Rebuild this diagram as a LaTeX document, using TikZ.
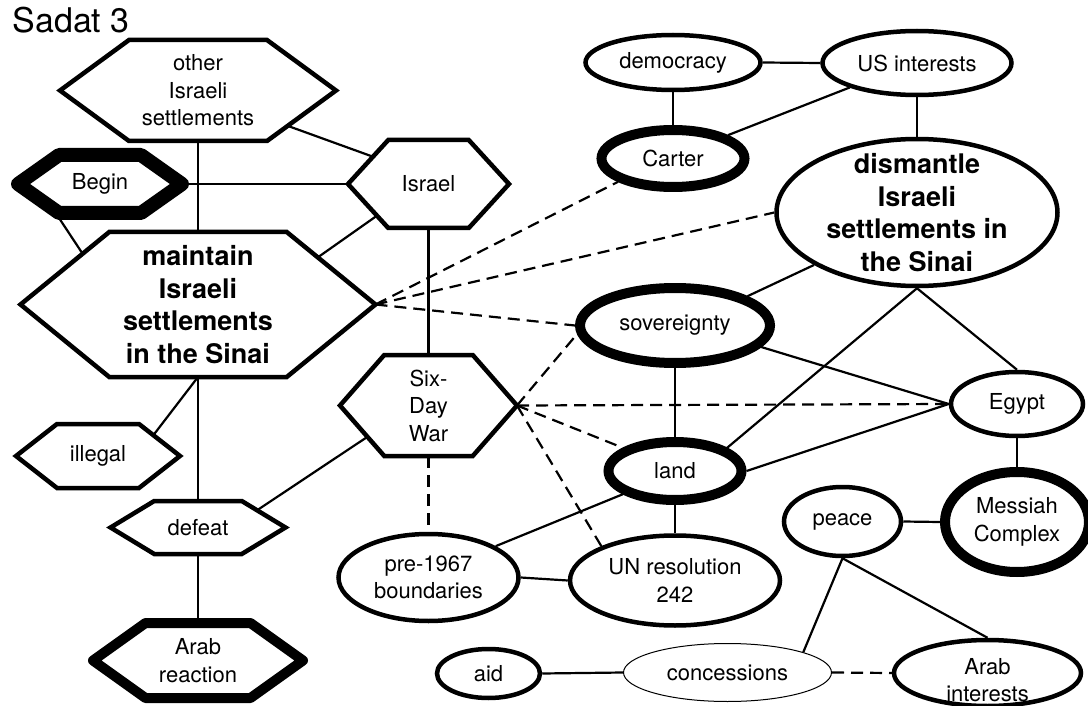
\documentclass[tikz,border=0pt]{standalone}
\usepackage{fontspec}
\setmainfont{TeX Gyre Heros}
\usetikzlibrary{calc,shapes.geometric}

% Elongated hexagon: tips at west/east, flat top and bottom edges
% running between the quarter points of the box.
\makeatletter
\newdimen\hexL \newdimen\hexR \newdimen\hexT \newdimen\hexB
\newdimen\hexM \newdimen\hexQa \newdimen\hexQb
\pgfdeclareshape{hexbox}{%
  \inheritsavedanchors[from=rectangle]%
  \inheritanchorborder[from=rectangle]%
  \inheritanchor[from=rectangle]{center}%
  \inheritanchor[from=rectangle]{north}%
  \inheritanchor[from=rectangle]{south}%
  \inheritanchor[from=rectangle]{west}%
  \inheritanchor[from=rectangle]{east}%
  \anchor{top left}{\southwest \pgf@xa=\pgf@x \northeast
    \pgf@x=.25\pgf@x \advance\pgf@x by .75\pgf@xa}%
  \anchor{top right}{\southwest \pgf@xa=\pgf@x \northeast
    \pgf@x=.75\pgf@x \advance\pgf@x by .25\pgf@xa}%
  \anchor{bottom left}{\northeast \pgf@xa=\pgf@x \southwest
    \pgf@x=.75\pgf@x \advance\pgf@x by .25\pgf@xa}%
  \anchor{bottom right}{\northeast \pgf@xa=\pgf@x \southwest
    \pgf@x=.25\pgf@x \advance\pgf@x by .75\pgf@xa}%
  \backgroundpath{%
    \southwest \hexL=\pgf@x \hexB=\pgf@y
    \northeast \hexR=\pgf@x \hexT=\pgf@y
    \hexM=.5\hexB \advance\hexM by .5\hexT
    \hexQa=.75\hexL \advance\hexQa by .25\hexR
    \hexQb=.25\hexL \advance\hexQb by .75\hexR
    \pgfpathmoveto{\pgfqpoint{\hexL}{\hexM}}%
    \pgfpathlineto{\pgfqpoint{\hexQa}{\hexT}}%
    \pgfpathlineto{\pgfqpoint{\hexQb}{\hexT}}%
    \pgfpathlineto{\pgfqpoint{\hexR}{\hexM}}%
    \pgfpathlineto{\pgfqpoint{\hexQb}{\hexB}}%
    \pgfpathlineto{\pgfqpoint{\hexQa}{\hexB}}%
    \pgfpathclose
  }%
}
\makeatother

\newcommand\lblfont{\fontsize{22}{27.5}\selectfont}
\newcommand\keyfont{\fontsize{27}{32.5}\selectfont\bfseries}

\begin{document}
\begin{tikzpicture}[x=1pt, y=-1pt,
  hexnode/.style={shape=hexbox, draw, fill=white, line width=4.5pt,
    inner sep=0pt, outer sep=0pt, align=center, font=\lblfont},
  ovalnode/.style={ellipse, draw, fill=white, line width=4.5pt,
    inner xsep=0pt, inner ysep=-12pt, align=center, font=\lblfont},
  dims/.style 2 args={minimum width=#1pt, minimum height=#2pt},
  heavy/.style={line width=10pt},
  link/.style={line width=2.2pt},
  dlink/.style={line width=2.2pt, dash pattern=on 12pt off 7pt}]

\useasboundingbox (0,0) rectangle (1088,706);

\node[anchor=base west, font=\fontsize{34}{40}\selectfont] (title) at (9,33) {Sadat 3};

% Israeli side (hexagons)
\node[hexnode, dims={276}{101}] (other) at (198,90.5) {other\\Israeli\\settlements};
\node[hexnode, dims={164}{58}, line width=14pt, line join=round] (begin) at (100,184) {Begin};
\node[hexnode, dims={161}{88}] (israel) at (428.5,184) {Israel};
\node[hexnode, dims={355}{145}, font=\keyfont] (maintain) at (198,304.5)
  {maintain\\Israeli\\settlements\\in the Sinai};
\node[hexnode, dims={164}{64}] (illegal) at (98,456) {illegal};
\node[hexnode, dims={175}{53}] (defeat) at (198,527.5) {defeat};
\node[hexnode, dims={177}{101}] (sixday) at (428.5,405.5) {Six-\\Day\\War};
\node[hexnode, dims={210}{75}, heavy, line join=round] (arabreaction) at (198,660.5) {Arab\\reaction};

% Egyptian side (ellipses)
\node[ovalnode, dims={175}{55}] (democracy) at (673,62.5) {democracy};
\node[ovalnode, dims={189}{64}] (usint) at (917,63) {US interests};
\node[ovalnode, dims={143}{57}, heavy] (carter) at (673,158.5) {Carter};
\node[ovalnode, dims={281}{147}, font=\keyfont] (dismantle) at (917,212.5)
  {dismantle\\Israeli\\settlements in\\the Sinai};
\node[ovalnode, dims={190}{75}, heavy] (sovereignty) at (675,325.5) {sovereignty};
\node[ovalnode, dims={133}{58}, heavy] (land) at (675,471) {land};
\node[ovalnode, dims={132}{64}] (egypt) at (1017,404) {Egypt};
\node[ovalnode, dims={144}{100}, heavy] (messiah) at (1017,522) {Messiah\\Complex};
\node[ovalnode, dims={117}{69}] (peace) at (842.5,521.5) {peace};
% the strut on the first line lowers this label inside its ellipse
\node[ovalnode, dims={187}{66}] (arabint) at (987.5,673) {\rule{0pt}{30pt}Arab\\interests};
\node[ovalnode, dims={208}{58}, line width=1pt] (concessions) at (727.5,672.5) {concessions};
\node[ovalnode, dims={103}{49}] (aid) at (488.5,673.5) {aid};
\node[ovalnode, dims={180}{87}] (pre) at (428.5,577.5) {pre-1967\\boundaries};
\node[ovalnode, dims={210}{90}] (unres) at (675,580.5) {UN resolution\\242};

% solid links, left group
\draw[link] (other.south) -- (maintain.north);
\draw[link] (begin.east) -- (israel.west);
\draw[link] ($(other.bottom right)!0.3!(other.east)$) -- ($(israel.west)!0.62!(israel.top left)$);
\draw[link] ($(begin.west)!0.85!(begin.bottom left)$) -- ($(maintain.west)!0.7!(maintain.top left)$);
\draw[link] ($(maintain.top right)!0.35!(maintain.east)$) -- ($(israel.west)!0.72!(israel.bottom left)$);
\draw[link] (israel.south) -- (sixday.north);
\draw[link] (maintain.south) -- (defeat.north);
\draw[link] (maintain.south) -- ($(illegal.top right)!0.35!(illegal.east)$);
\draw[link] (defeat.south) -- (arabreaction.north);
\draw[link] ($(defeat.top right)!0.35!(defeat.east)$) -- ($(sixday.west)!0.62!(sixday.bottom left)$);

% solid links, right group
\draw[link] (democracy.east) -- (usint.west);
\draw[link] (democracy.south) -- (carter.north);
\draw[link] (usint.200) -- (carter.23);
\draw[link] (usint.south) -- (dismantle.north);
\draw[link] (dismantle.207.5) -- (sovereignty.22.4);
\draw[link] (dismantle.south) -- (land.24.6);
\draw[link] (dismantle.south) -- (egypt.north);
\draw[link] (sovereignty.south) -- (land.north);
\draw[link] (sovereignty.-14) -- (egypt.west);
\draw[link] (land.east) -- (egypt.west);
\draw[link] (land.south) -- (unres.north);
\draw[link] (land.204.6) -- (pre.25.9);
\draw[link] (pre.east) -- (unres.west);
\draw[link] (egypt.south) -- (messiah.north);
\draw[link] (peace.east) -- (messiah.west);
\draw[link] (peace.south) -- (concessions.15.4);
\draw[link] (peace.south) -- (arabint.north);
\draw[link] (aid.east) -- (concessions.west);

% dashed links
\draw[dlink] (maintain.east) -- (carter.203);
\draw[dlink] (maintain.east) -- (dismantle.west);
\draw[dlink] (maintain.east) -- (sovereignty.west);
\draw[dlink] (sixday.east) -- (sovereignty.185);
\draw[dlink] (sixday.east) -- (egypt.west);
\draw[dlink] (sixday.east) -- (land.156);
\draw[dlink] (sixday.east) -- (unres.155);
\draw[dlink] (sixday.south) -- (pre.north);
\draw[dlink] (concessions.east) -- (arabint.west);
\end{tikzpicture}
\end{document}
